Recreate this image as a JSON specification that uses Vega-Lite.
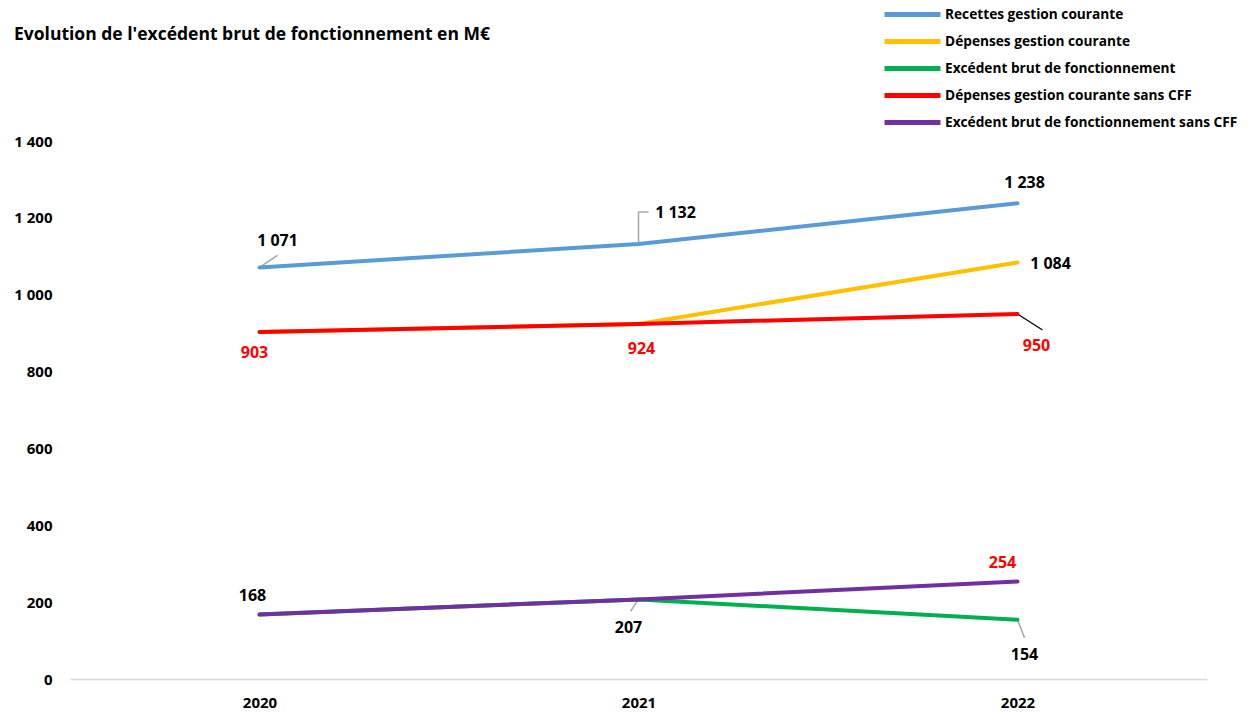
{
  "$schema": "https://vega.github.io/schema/vega-lite/v6.json",
  "width": 1137,
  "height": 538,
  "autosize": {"type": "none"},
  "padding": {"left": 70, "top": 141, "right": 45, "bottom": 36},
  "background": "white",
  "title": {
    "text": "Evolution de l'excédent brut de fonctionnement en M€",
    "anchor": "start",
    "frame": "group",
    "dx": -56,
    "offset": 0,
    "dy": 38,
    "font": "Open Sans",
    "fontSize": 17.5,
    "fontWeight": "bold",
    "color": "#000000"
  },
  "config": {
    "view": {"stroke": null},
    "font": "Open Sans",
    "locale": {"number": {"decimal": ",", "thousands": " ", "grouping": [3], "currency": ["", " €"]}}
  },
  "data": {
    "values": [
      {"year": "2020", "series": "Recettes gestion courante", "value": 1071},
      {"year": "2021", "series": "Recettes gestion courante", "value": 1132},
      {"year": "2022", "series": "Recettes gestion courante", "value": 1238},
      {"year": "2020", "series": "Dépenses gestion courante", "value": 903},
      {"year": "2021", "series": "Dépenses gestion courante", "value": 924},
      {"year": "2022", "series": "Dépenses gestion courante", "value": 1084},
      {"year": "2020", "series": "Excédent brut de fonctionnement", "value": 168},
      {"year": "2021", "series": "Excédent brut de fonctionnement", "value": 207},
      {"year": "2022", "series": "Excédent brut de fonctionnement", "value": 154},
      {"year": "2020", "series": "Dépenses gestion courante sans CFF", "value": 903},
      {"year": "2021", "series": "Dépenses gestion courante sans CFF", "value": 924},
      {"year": "2022", "series": "Dépenses gestion courante sans CFF", "value": 950},
      {"year": "2020", "series": "Excédent brut de fonctionnement sans CFF", "value": 168},
      {"year": "2021", "series": "Excédent brut de fonctionnement sans CFF", "value": 207},
      {"year": "2022", "series": "Excédent brut de fonctionnement sans CFF", "value": 254}
    ]
  },
  "encoding": {
    "x": {
      "field": "year", "type": "ordinal",
      "scale": {"type": "point", "padding": 0.5},
      "axis": {
        "title": null, "labelAngle": 0, "ticks": false, "grid": false,
        "domainColor": "#D9D9D9", "domainWidth": 1.5,
        "labelPadding": 16, "labelFontSize": 15, "labelFontWeight": "bold", "labelColor": "#000000"
      }
    },
    "y": {
      "field": "value", "type": "quantitative",
      "scale": {"domain": [0, 1400], "nice": false, "zero": true},
      "axis": {
        "title": null, "values": [0, 200, 400, 600, 800, 1000, 1200, 1400],
        "format": ",.0f", "ticks": false, "domain": false, "grid": false,
        "labelPadding": 18, "labelFontSize": 15, "labelFontWeight": "bold", "labelColor": "#000000"
      }
    }
  },
  "layer": [
    {
      "transform": [{"filter": "(datum.series == 'Recettes gestion courante' && datum.year == '2020')"}],
      "mark": {"type": "rule", "color": "#A6A6A6", "strokeWidth": 1.5, "x2Offset": 18, "y2Offset": -12},
      "encoding": {"x2": {"field": "year"}, "y2": {"field": "value"}}
    },
    {
      "transform": [{"filter": "(datum.series == 'Recettes gestion courante' && datum.year == '2021')"}],
      "mark": {"type": "rule", "color": "#A6A6A6", "strokeWidth": 1.5, "x2Offset": 0, "y2Offset": -32},
      "encoding": {"x2": {"field": "year"}, "y2": {"field": "value"}}
    },
    {
      "transform": [{"filter": "(datum.series == 'Recettes gestion courante' && datum.year == '2021')"}],
      "mark": {"type": "rule", "color": "#A6A6A6", "strokeWidth": 1.5, "yOffset": -32, "x2Offset": 10, "y2Offset": -32},
      "encoding": {"x2": {"field": "year"}, "y2": {"field": "value"}}
    },
    {
      "transform": [{"filter": "(datum.series == 'Dépenses gestion courante sans CFF' && datum.year == '2022')"}],
      "mark": {"type": "rule", "color": "#000000", "strokeWidth": 1.2, "x2Offset": 25, "y2Offset": 16},
      "encoding": {"x2": {"field": "year"}, "y2": {"field": "value"}}
    },
    {
      "transform": [{"filter": "(datum.series == 'Excédent brut de fonctionnement sans CFF' && datum.year == '2021')"}],
      "mark": {"type": "rule", "color": "#A6A6A6", "strokeWidth": 1.5, "x2Offset": -8, "y2Offset": 12},
      "encoding": {"x2": {"field": "year"}, "y2": {"field": "value"}}
    },
    {
      "transform": [{"filter": "(datum.series == 'Excédent brut de fonctionnement' && datum.year == '2022')"}],
      "mark": {"type": "rule", "color": "#A6A6A6", "strokeWidth": 1.5, "x2Offset": 7, "y2Offset": 18},
      "encoding": {"x2": {"field": "year"}, "y2": {"field": "value"}}
    },
    {
      "mark": {"type": "line", "strokeWidth": 4, "strokeCap": "round", "strokeJoin": "round"},
      "encoding": {
        "color": {
          "field": "series", "type": "nominal",
          "scale": {
            "domain": ["Recettes gestion courante", "Dépenses gestion courante", "Excédent brut de fonctionnement", "Dépenses gestion courante sans CFF", "Excédent brut de fonctionnement sans CFF"],
            "range": ["#5B9BD5", "#FFC000", "#00B050", "#FF0000", "#7030A0"]
          },
          "legend": {
            "title": null, "orient": "none", "legendX": 833, "legendY": -136,
            "symbolType": "M-4,0H4", "symbolSize": 196, "symbolStrokeWidth": 5, "symbolStrokeCap": "round",
            "labelFont": "Open Sans", "labelFontSize": 13.7, "labelFontWeight": "bold", "labelColor": "#000000",
            "labelOffset": 23, "rowPadding": 6, "labelLimit": 400
          }
        },
        "order": {"field": "series"}
      }
    },
    {
      "transform": [{"filter": "datum.series == 'Recettes gestion courante' && datum.year == '2020'"}],
      "mark": {"type": "text", "dx": 18, "dy": -26, "fontSize": 16, "fontWeight": "bold", "color": "#000000"},
      "encoding": {"text": {"field": "value", "format": ",.0f"}}
    },
    {
      "transform": [{"filter": "datum.series == 'Recettes gestion courante' && datum.year == '2021'"}],
      "mark": {"type": "text", "dx": 37, "dy": -31, "fontSize": 16, "fontWeight": "bold", "color": "#000000"},
      "encoding": {"text": {"field": "value", "format": ",.0f"}}
    },
    {
      "transform": [{"filter": "datum.series == 'Recettes gestion courante' && datum.year == '2022'"}],
      "mark": {"type": "text", "dx": 7, "dy": -20, "fontSize": 16, "fontWeight": "bold", "color": "#000000"},
      "encoding": {"text": {"field": "value", "format": ",.0f"}}
    },
    {
      "transform": [{"filter": "datum.series == 'Dépenses gestion courante' && datum.year == '2022'"}],
      "mark": {"type": "text", "dx": 33, "dy": 2, "fontSize": 16, "fontWeight": "bold", "color": "#000000"},
      "encoding": {"text": {"field": "value", "format": ",.0f"}}
    },
    {
      "transform": [{"filter": "datum.series == 'Dépenses gestion courante sans CFF' && datum.year == '2020'"}],
      "mark": {"type": "text", "dx": -5, "dy": 21, "fontSize": 16, "fontWeight": "bold", "color": "#FF0000"},
      "encoding": {"text": {"field": "value", "format": ",.0f"}}
    },
    {
      "transform": [{"filter": "datum.series == 'Dépenses gestion courante sans CFF' && datum.year == '2021'"}],
      "mark": {"type": "text", "dx": 3, "dy": 25, "fontSize": 16, "fontWeight": "bold", "color": "#FF0000"},
      "encoding": {"text": {"field": "value", "format": ",.0f"}}
    },
    {
      "transform": [{"filter": "datum.series == 'Dépenses gestion courante sans CFF' && datum.year == '2022'"}],
      "mark": {"type": "text", "dx": 19, "dy": 32, "fontSize": 16, "fontWeight": "bold", "color": "#FF0000"},
      "encoding": {"text": {"field": "value", "format": ",.0f"}}
    },
    {
      "transform": [{"filter": "datum.series == 'Excédent brut de fonctionnement sans CFF' && datum.year == '2020'"}],
      "mark": {"type": "text", "dx": -7, "dy": -18, "fontSize": 16, "fontWeight": "bold", "color": "#000000"},
      "encoding": {"text": {"field": "value", "format": ",.0f"}}
    },
    {
      "transform": [{"filter": "datum.series == 'Excédent brut de fonctionnement sans CFF' && datum.year == '2021'"}],
      "mark": {"type": "text", "dx": -10, "dy": 29, "fontSize": 16, "fontWeight": "bold", "color": "#000000"},
      "encoding": {"text": {"field": "value", "format": ",.0f"}}
    },
    {
      "transform": [{"filter": "datum.series == 'Excédent brut de fonctionnement sans CFF' && datum.year == '2022'"}],
      "mark": {"type": "text", "dx": -15, "dy": -18, "fontSize": 16, "fontWeight": "bold", "color": "#FF0000"},
      "encoding": {"text": {"field": "value", "format": ",.0f"}}
    },
    {
      "transform": [{"filter": "datum.series == 'Excédent brut de fonctionnement' && datum.year == '2022'"}],
      "mark": {"type": "text", "dx": 7, "dy": 35, "fontSize": 16, "fontWeight": "bold", "color": "#000000"},
      "encoding": {"text": {"field": "value", "format": ",.0f"}}
    }
  ]
}
